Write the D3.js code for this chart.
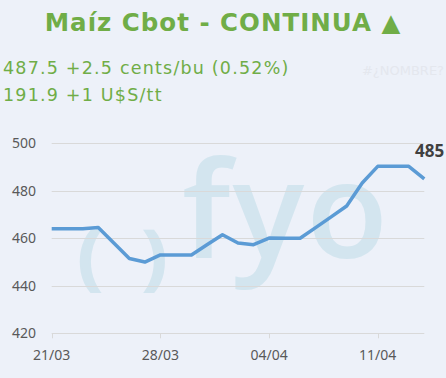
<!DOCTYPE html>
<html>
<head>
<meta charset="utf-8">
<script src="https://cdn.jsdelivr.net/npm/d3@7"></script>
<style>
  body { margin: 0; padding: 0; background: #edf1f9; }
  svg { display: block; }
</style>
</head>
<body>
<div id="chart"></div>
<script>
// data: daily closes, cents/bu
var dates = ["21/03", "22/03", "23/03", "24/03", "25/03", "26/03", "27/03", "28/03", "29/03", "30/03",
  "31/03", "01/04", "02/04", "03/04", "04/04", "05/04", "06/04", "07/04", "08/04", "09/04",
  "10/04", "11/04", "12/04", "13/04", "14/04"];
var prices = [464, 464, 464, 464.5, 458, 451.5, 450, 453, 453, 453,
  457.3, 461.5, 458, 457.3, 460.1, 460, 460, 464.5, 469, 473.6,
  483.3, 490.3, 490.3, 490.3, 485];
var yTicks = [420, 440, 460, 480, 500];
var xTickLabels = ["21/03", "28/03", "04/04", "11/04"];

var titleText = "Maíz Cbot - CONTINUA ▲";
var infoLines = ["487.5 +2.5 cents/bu (0.52%)", "191.9 +1 U$S/tt"];
var lastLabel = "485";

var w = 446;
var h = 378;

var svg = d3.select('#chart')
  .append('svg')
    .attr('width', w)
    .attr('height', h);

svg.append('rect')
  .attr('width', w)
  .attr('height', h)
  .attr('fill', '#edf1f9');

// header
svg.append('text')
  .text(titleText)
    .attr('x', 223)
    .attr('y', 31)
    .attr('text-anchor', 'middle')
    .attr('font-family', 'DejaVu Sans')
    .attr('font-weight', 'bold')
    .attr('font-size', 24.5)
    .attr('letter-spacing', 1)
    .attr('fill', '#70ad47');

svg.selectAll('.info')
  .data(infoLines)
  .enter()
  .append('text')
    .attr('class', 'info')
    .text(function(d) { return d; })
    .attr('x', 3)
    .attr('y', function(d, i) { return 74 + i * 26.5; })
    .attr('font-family', 'DejaVu Sans')
    .attr('font-size', 17.5)
    .attr('letter-spacing', 1.2)
    .attr('fill', '#70ad47');

svg.append('text')
  .text('#¿NOMBRE?')
    .attr('x', 444)
    .attr('y', 75)
    .attr('text-anchor', 'end')
    .attr('font-family', 'DejaVu Sans')
    .attr('font-size', 13)
    .attr('fill', '#e4e7ee');

// plot area
var plotLeft = 51.7, plotRight = 424.3, plotTop = 143.3, plotBottom = 333.3;

var x = d3.scalePoint()
  .domain(dates)
  .range([plotLeft, plotRight]);

var y = d3.scaleLinear()
  .domain([420, 500])
  .range([plotBottom, plotTop]);

// watermark
var wm = svg.append('g')
  .attr('fill', '#d3e5ef')
  .attr('font-family', 'Open Sans');

wm.append('text')
  .text('(')
    .attr('x', 78)
    .attr('y', 281)
    .attr('font-weight', 700)
    .attr('font-size', 70)
    .attr('stroke', '#d3e5ef')
    .attr('stroke-width', 2);
wm.append('text')
  .text(')')
    .attr('x', 143)
    .attr('y', 281)
    .attr('font-weight', 700)
    .attr('font-size', 70)
    .attr('stroke', '#d3e5ef')
    .attr('stroke-width', 2);
wm.append('text')
  .text('fyo')
    .attr('x', 182)
    .attr('y', 258)
    .attr('font-weight', 600)
    .attr('font-size', 134)
    .attr('letter-spacing', 2);

// gridlines
svg.selectAll('.grid')
  .data(yTicks)
  .enter()
  .append('line')
    .attr('class', 'grid')
    .attr('x1', plotLeft)
    .attr('x2', plotRight)
    .attr('y1', function(d) { return Math.round(y(d)) + 0.5; })
    .attr('y2', function(d) { return Math.round(y(d)) + 0.5; })
    .attr('stroke', '#d9d9d9')
    .attr('stroke-width', 1);

// y labels
svg.selectAll('.ylab')
  .data(yTicks)
  .enter()
  .append('text')
    .attr('class', 'ylab')
    .text(function(d) { return d; })
    .attr('x', 36)
    .attr('y', function(d) { return y(d) + 5; })
    .attr('text-anchor', 'end')
    .attr('font-family', 'Noto Sans')
    .attr('font-size', 14)
    .attr('fill', '#595959');

// x ticks + labels
svg.selectAll('.xtick')
  .data(xTickLabels)
  .enter()
  .append('line')
    .attr('class', 'xtick')
    .attr('x1', function(d) { return Math.round(x(d)) + 0.5; })
    .attr('x2', function(d) { return Math.round(x(d)) + 0.5; })
    .attr('y1', plotBottom)
    .attr('y2', plotBottom + 5)
    .attr('stroke', '#d9d9d9');

svg.selectAll('.xlab')
  .data(xTickLabels)
  .enter()
  .append('text')
    .attr('class', 'xlab')
    .text(function(d) { return d; })
    .attr('x', function(d) { return x(d); })
    .attr('y', 360)
    .attr('text-anchor', 'middle')
    .attr('font-family', 'Noto Sans')
    .attr('font-size', 14)
    .attr('fill', '#595959');

// the line
var line = d3.line()
  .x(function(d, i) { return x(dates[i]); })
  .y(function(d) { return y(d); });

svg.append('path')
  .datum(prices)
  .attr('d', line)
  .attr('fill', 'none')
  .attr('stroke', '#5b9bd5')
  .attr('stroke-width', 3.5)
  .attr('stroke-linejoin', 'round');

// last value label
svg.append('text')
  .text(lastLabel)
    .attr('x', x(dates[dates.length - 1]) + 20)
    .attr('y', y(prices[prices.length - 1]) - 22)
    .attr('text-anchor', 'end')
    .attr('font-family', 'Noto Sans')
    .attr('font-weight', 'bold')
    .attr('font-size', 17)
    .attr('fill', '#404040');
</script>
</body>
</html>
